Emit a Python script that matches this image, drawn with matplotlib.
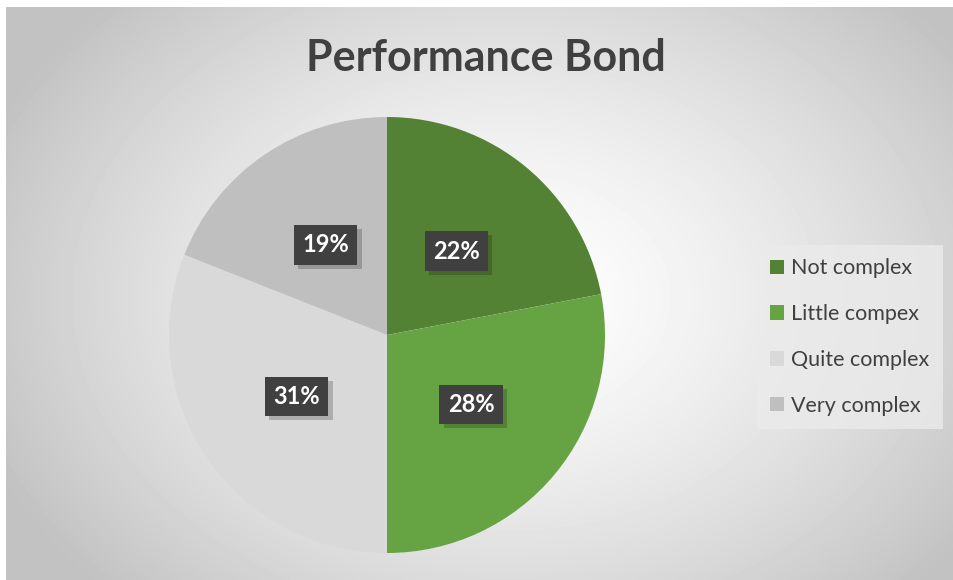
import matplotlib.pyplot as plt
import numpy as np
import matplotlib.patheffects as pe

# data
categories = ['Not complex', 'Little compex', 'Quite complex', 'Very complex']
shares = [22, 28, 31, 19]
colors = ['#548235', '#66a343', '#d9d9d9', '#bfbfbf']
title = 'Performance Bond'

W, H = 954, 580
fig = plt.figure(figsize=(W / 100, H / 100), dpi=100)
fig.patch.set_facecolor('white')

# background: radial gradient, white near the middle, gray at the corners
bg = fig.add_axes([6 / W, 0, 1 - 6 / W, 1 - 7 / H])
bg.set_axis_off()
yy, xx = np.mgrid[0:573, 0:948]
d = np.sqrt(((xx - 500) / 560.0) ** 2 + ((yy - 290) / 420.0) ** 2)
shade = 1.0 - 0.24 * np.clip(d, 0, 1) ** 1.4
bg.imshow(shade, cmap='gray', vmin=0, vmax=1, aspect='auto', interpolation='bilinear')

# pie
cx, cy, r = 387, 335, 218
ax = fig.add_axes([(cx - r) / W, (H - cy - r) / H, 2 * r / W, 2 * r / H])
ax.set_facecolor('none')
wedges, texts = ax.pie(shares, colors=colors, startangle=90, counterclock=False,
                       radius=1, labels=[f'{s}%' for s in shares], labeldistance=0.5,
                       wedgeprops=dict(linewidth=0))
ax.set_xlim(-1, 1)
ax.set_ylim(-1, 1)
ax.set_aspect('equal')

# data labels: white bold text in dark boxes with a drop shadow
for t in texts:
    t.set_ha('center')
    t.set_va('center')
    t.set_fontsize(17)
    t.set_fontweight('bold')
    t.set_family('Lato')
    t.set_color('white')
    t.set_bbox(dict(boxstyle='square,pad=0.35', fc='#404040', ec='none'))
    t.get_bbox_patch().set_path_effects(
        [pe.SimplePatchShadow(offset=(3, -3), shadow_rgbFace='black', alpha=0.2), pe.Normal()])

# title
fig.text(486 / W, 1 - 58 / H, title, ha='center', va='center',
         fontsize=31, fontweight='bold', family='Lato', color='#404040')

# legend
leg = fig.legend(wedges, categories, loc='center left',
                 bbox_to_anchor=(757 / W, 1 - 337 / H), frameon=True,
                 prop={'family': 'Lato', 'size': 15.5},
                 handlelength=0.65, handleheight=0.65, handletextpad=0.35,
                 labelspacing=1.2, borderpad=0.6, borderaxespad=0)
leg.get_frame().set_facecolor('#ebebeb')
leg.get_frame().set_alpha(0.8)
leg.get_frame().set_edgecolor('none')
leg.get_frame().set_boxstyle('square', pad=0)
for txt in leg.get_texts():
    txt.set_color('#404040')

fig.savefig('out.png', dpi=100)
